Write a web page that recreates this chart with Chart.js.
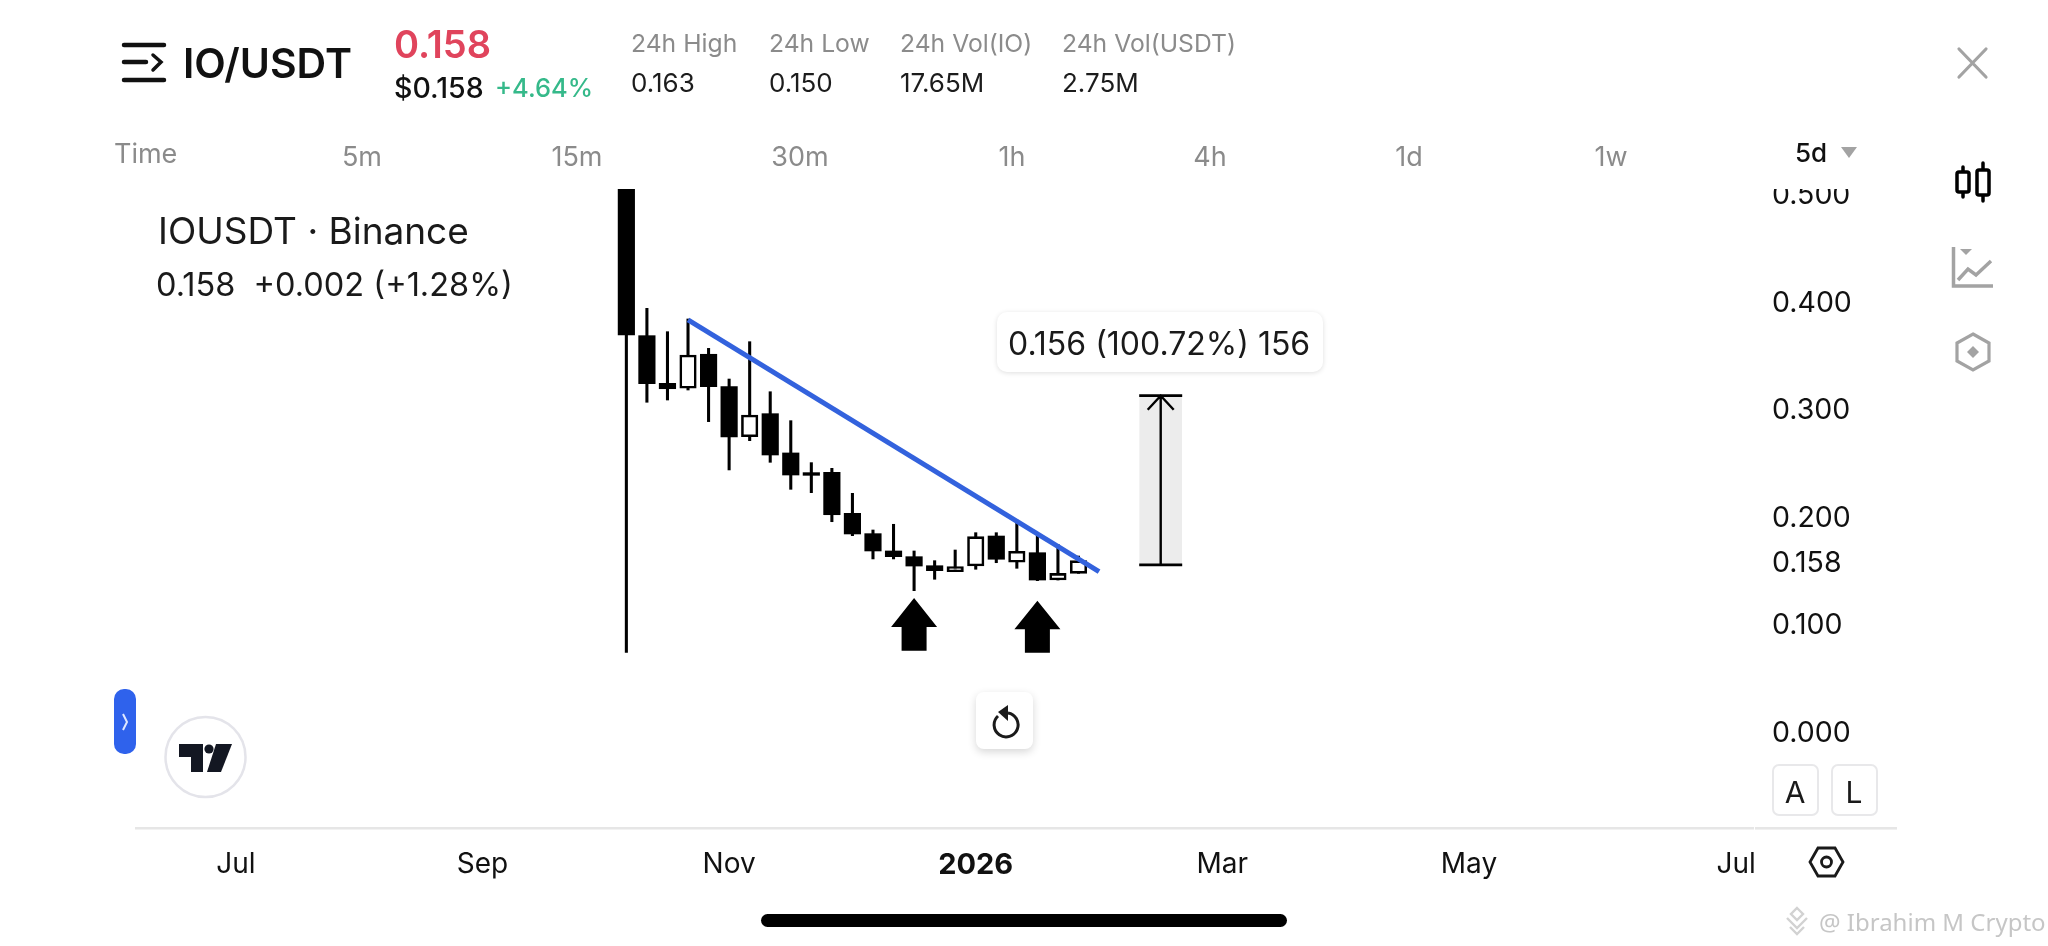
<!DOCTYPE html>
<html>
<head>
<meta charset="utf-8">
<script src="https://cdn.jsdelivr.net/npm/chart.js@4/dist/chart.umd.min.js"></script>
<style>
html,body{margin:0;padding:0;background:#fff;width:2048px;height:946px;overflow:hidden;font-family:Inter,sans-serif}
#c{position:absolute;left:0;top:189px}
.t{position:absolute;white-space:nowrap;transform:translateY(-50%);line-height:1;z-index:3}
.c{transform:translate(-50%,-50%)}
.g{color:#8b8b8b;font-size:24.7px}
.v{color:#1c1c1c;font-size:26px}
.m{color:#8b8b8b;font-size:27px}
svg{position:absolute;left:0;top:0;pointer-events:none;z-index:2}
.box{position:absolute;background:#fff;box-sizing:border-box;z-index:1}
</style>
</head>
<body>
<canvas id="c" width="2048" height="757" style="width:2048px;height:757px"></canvas>

<svg width="2048" height="946" viewBox="0 0 2048 946">
  <!-- menu -->
  <g stroke="#111" stroke-width="4.5" stroke-linecap="round" fill="none">
    <path d="M124 45H164M124 62H146M124 80H164"/>
    <path d="M153 55L161 62L153 70" stroke-width="3.5"/>
  </g>
  <!-- close -->
  <path d="M1959 49L1986 77M1986 49L1959 77" stroke="#a3a3a3" stroke-width="3.2" stroke-linecap="round"/>
  <!-- timeframe caret -->
  <path d="M1841 147H1857L1849 158Z" fill="#a3a3a3"/>
  <!-- candle icon -->
  <g stroke="#000" stroke-width="3.5" fill="#fff" stroke-linecap="round">
    <path d="M1963 167V197M1983 163V201"/>
    <rect x="1957" y="172" width="12" height="20" rx="2"/>
    <rect x="1977" y="170" width="12" height="25" rx="2"/>
  </g>
  <!-- indicator icon -->
  <g stroke="#a3a3a3" fill="none" stroke-width="3.5">
    <path d="M1953.5 247V286H1993"/>
    <path d="M1958 280L1968 269L1976 275L1991 261"/>
    <path d="M1960 249H1972L1966 255Z" fill="#a3a3a3" stroke="none"/>
  </g>
  <!-- hex icon -->
  <path d="M1973 334L1989 343V361L1973 370L1957 361V343Z" fill="none" stroke="#a3a3a3" stroke-width="3.2"/>
  <path d="M1973 346L1979 352L1973 358L1967 352Z" fill="#a3a3a3"/>
  <!-- side pill -->
  <rect x="114" y="689" width="22" height="65" rx="10" fill="#2f62ec"/>
  <path d="M123 714L127 722L123 730" stroke="#dfe8ff" stroke-width="2" fill="none"/>
  <!-- tv logo -->
  <ellipse cx="205.5" cy="757" rx="40" ry="40" fill="#fff" stroke="#e4e4ea" stroke-width="2.5"/>
  <path d="M179 744H203V772H191V757H179Z" fill="#131722"/>
  <circle cx="209" cy="749" r="4.6" fill="#131722"/>
  <path d="M216 744H232L221 772H207Z" fill="#131722"/>
  <!-- reset icon -->
  <g stroke="#1a1a1a" stroke-width="3" fill="none">
    <path d="M998 716A12 12 0 1 0 1008 713"/>
  </g>
  <path d="M1008 705V721L998 712Z" fill="#1a1a1a"/>
  <!-- bottom rule extension -->
  <rect x="1755" y="827" width="142" height="2.6" fill="#e6e6e6"/>
  <!-- settings hex -->
  <path d="M1818 848H1835L1843 862L1835 876H1818L1810 862Z" fill="none" stroke="#1a1a1a" stroke-width="2.8"/>
  <circle cx="1826.5" cy="862" r="5" fill="none" stroke="#1a1a1a" stroke-width="2.8"/>
  <!-- home indicator -->
  <rect x="761" y="914" width="526" height="13" rx="6.5" fill="#000"/>
  <!-- watermark mark -->
  <g fill="none" stroke="#d2d2d2" stroke-width="2.4">
    <path d="M1797 908L1803 914L1797 920L1791 914Z"/>
    <path d="M1787 918L1797 928L1807 918"/>
    <path d="M1790 927L1797 934L1804 927"/>
  </g>
</svg>

<div class="box" style="left:997px;top:312px;width:326px;height:60px;border-radius:10px;box-shadow:0 1px 5px rgba(0,0,0,.13)"></div>
<div class="box" style="left:976px;top:692px;width:57px;height:57px;border-radius:8px;box-shadow:0 3px 9px rgba(0,0,0,.16)"></div>
<div class="box" style="left:1772px;top:764px;width:47px;height:52px;border:2px solid #e8e8ea;border-radius:7px"></div>
<div class="box" style="left:1831px;top:764px;width:47px;height:52px;border:2px solid #e8e8ea;border-radius:7px"></div>

<span class="t" style="left:183px;top:63px;font-size:41px;font-weight:600;color:#111">IO/USDT</span>
<span class="t" style="left:394px;top:44px;font-size:38px;font-weight:600;color:#e0445c">0.158</span>
<span class="t" style="left:394px;top:88px;font-size:28.5px;font-weight:500;color:#111">$0.158</span>
<span class="t" style="left:495px;top:88px;font-size:25.5px;font-weight:500;color:#35b98a">+4.64%</span>

<span class="t g" style="left:631px;top:43px">24h High</span>
<span class="t g" style="left:769px;top:43px">24h Low</span>
<span class="t g" style="left:900px;top:43px">24h Vol(IO)</span>
<span class="t g" style="left:1062px;top:43px">24h Vol(USDT)</span>
<span class="t v" style="left:631px;top:83px">0.163</span>
<span class="t v" style="left:769px;top:83px">0.150</span>
<span class="t v" style="left:900px;top:83px">17.65M</span>
<span class="t v" style="left:1062px;top:83px">2.75M</span>

<span class="t m" style="left:114px;top:153px">Time</span>
<span class="t m c" style="left:362px;top:156px">5m</span>
<span class="t m c" style="left:577px;top:156px">15m</span>
<span class="t m c" style="left:800px;top:156px">30m</span>
<span class="t m c" style="left:1012px;top:156px">1h</span>
<span class="t m c" style="left:1210px;top:156px">4h</span>
<span class="t m c" style="left:1409px;top:156px">1d</span>
<span class="t m c" style="left:1611px;top:156px">1w</span>
<span class="t c" style="left:1811px;top:153px;font-size:26px;font-weight:500;color:#111">5d</span>

<span class="t" style="left:158px;top:230px;font-size:37px;color:#1a1a1a">IOUSDT · Binance</span>
<span class="t" style="left:156px;top:285px;font-size:32.5px;color:#1a1a1a">0.158&nbsp; +0.002 (+1.28%)</span>
<span class="t" style="left:1008px;top:344px;font-size:32px;color:#1a1a1a">0.156 (100.72%) 156</span>

<span class="t c" style="left:1795px;top:792px;font-size:30px;color:#1a1a1a">A</span>
<span class="t c" style="left:1854px;top:792px;font-size:30px;color:#1a1a1a">L</span>
<span class="t" style="left:1819px;top:922px;font-size:24px;color:#c6c6c6;font-family:'Noto Sans'">@ Ibrahim M Crypto</span>

<script>
// Candles, one per 5-day bar
const opens  = [0.600,0.3674,0.3231,0.3185,0.3501,0.3200,0.2735,0.2949,0.2584,0.2401,0.2404,0.2023,0.1834,0.1673,0.1620,0.1536,0.1481,0.1533,0.1812,0.1568,0.1657,0.1403,0.1465];
const highs  = [0.640,0.3928,0.3711,0.3829,0.3556,0.3271,0.3618,0.3153,0.2884,0.2494,0.2441,0.2209,0.1868,0.1921,0.1673,0.1583,0.1682,0.1843,0.1843,0.1961,0.1843,0.1735,0.1626];
const lows   = [0.0731,0.3055,0.3076,0.3169,0.2875,0.2426,0.2698,0.2497,0.2246,0.2215,0.1945,0.1815,0.1599,0.1599,0.1304,0.1410,0.1481,0.1503,0.1564,0.1512,0.1397,0.1403,0.1465];
const closes = [0.368,0.3228,0.3181,0.3494,0.3200,0.2732,0.2937,0.2565,0.2379,0.2376,0.2010,0.1831,0.1673,0.1620,0.1533,0.1490,0.1527,0.1806,0.1596,0.1670,0.1403,0.1465,0.1583];
const barIndex = opens.map((_, i) => i);

// Axis labels
const yTickValues = [0.5,0.4,0.3,0.2,0.158,0.1,0];
const xTickBars   = [-19,-7,5,17,29,41,54];
const xTickLabels = ['Jul','Sep','Nov','2026','Mar','May','Jul'];

// Drawings on the chart
const trendBars   = [3,23];
const trendValues = [0.3820,0.1481];
const measureBar  = 26;
const measureTop  = 0.3116;
const measureBase = 0.1543;
const arrowBars   = [14,20];
const arrowTips   = [0.1236,0.1211];
const arrowBases  = [0.0746,0.0728];

const drawings = {
  id:'drawings',
  beforeDraw(chart){
    // nudge the price labels onto the reference's text line
    const items = chart.scales.y.getLabelItems();
    if(!items._nudged){ items.forEach(it=>{ it.options.translation[1] += 2.5; }); items._nudged = true; }
  },
  afterDatasetsDraw(chart){
    const {ctx, scales:{x,y}} = chart;
    ctx.save();
    ctx.fillStyle = '#000';
    arrowBars.forEach((b,i)=>{
      const cx = x.getPixelForValue(b), t = y.getPixelForValue(arrowTips[i]), e = y.getPixelForValue(arrowBases[i]);
      const s = t + (e - t) * 0.55;
      ctx.beginPath();
      ctx.moveTo(cx,t); ctx.lineTo(cx+23,s); ctx.lineTo(cx+12.5,s); ctx.lineTo(cx+12.5,e);
      ctx.lineTo(cx-12.5,e); ctx.lineTo(cx-12.5,s); ctx.lineTo(cx-23,s); ctx.closePath();
      ctx.fill();
    });
    const mx = x.getPixelForValue(measureBar), mt = y.getPixelForValue(measureTop), mb = y.getPixelForValue(measureBase);
    ctx.strokeStyle = '#000';
    ctx.lineWidth = 2.4;
    ctx.beginPath(); ctx.moveTo(mx,mt); ctx.lineTo(mx,mb);
    ctx.moveTo(mx-13,mt+14); ctx.lineTo(mx,mt); ctx.lineTo(mx+13,mt+14);
    ctx.stroke();
    ctx.lineWidth = 2.8;
    ctx.beginPath();
    ctx.moveTo(mx-21.5,mt); ctx.lineTo(mx+21.5,mt);
    ctx.moveTo(mx-21.5,mb); ctx.lineTo(mx+21.5,mb);
    ctx.stroke();
    ctx.restore();
  }
};

// Drop the room the axes reserve for their end labels
const noPad = s => { s.paddingTop = s.paddingBottom = s.paddingLeft = s.paddingRight = 0; };

new Chart(document.getElementById('c'),{
  type:'bar',
  plugins:[drawings],
  data:{datasets:[
    {type:'line',order:0,data:trendBars.map((b,i)=>({x:b,y:trendValues[i]})),borderColor:'#3362dd',borderWidth:5,pointRadius:0,tension:0,borderCapStyle:'butt'},
    {order:1,grouped:false,barThickness:16.5,data:barIndex.map(i=>({x:i,y:[opens[i],closes[i]]})),
      backgroundColor:barIndex.map(i=>closes[i]>=opens[i]?'#fff':'#000'),borderColor:'#000',borderWidth:barIndex.map(i=>closes[i]>=opens[i]?2.6:0),borderSkipped:false},
    {order:2,grouped:false,barThickness:2.4,data:barIndex.map(i=>({x:i,y:[lows[i],highs[i]]})),backgroundColor:'#000',borderWidth:0},
    {order:3,grouped:false,barThickness:42,data:[{x:measureBar,y:[measureBase,measureTop]}],backgroundColor:'#ececec',borderWidth:0}
  ]},
  options:{
    responsive:false,animation:false,devicePixelRatio:1,
    layout:{autoPadding:false,padding:{left:136,right:0,top:0,bottom:0}},
    plugins:{legend:{display:false},tooltip:{enabled:false},title:{display:false}},
    scales:{
      x:{type:'linear',offset:false,min:-23.86,max:54.82,
        grid:{display:false,drawTicks:false},
        border:{display:true,color:'#e6e6e6',width:2.6},
        afterFit(s){s.height=118;noPad(s);},
        afterBuildTicks(s){s.ticks=xTickBars.map(v=>({value:v}));},
        ticks:{autoSkip:false,maxRotation:0,padding:20,color:'#111',
          font:c=>({family:'Inter',size:c.index===3?29:28,weight:c.index===3?'700':'400'}),
          callback:(v,i)=>xTickLabels[i]}
      },
      y:{type:'linear',position:'right',min:-0.09015,max:0.5037,
        grid:{display:false,drawTicks:false},border:{display:false},
        afterFit(s){s.width=295;noPad(s);},
        afterBuildTicks(s){s.ticks=yTickValues.map(v=>({value:v}));},
        ticks:{autoSkip:false,padding:19,crossAlign:'near',color:'#111',
          font:{family:'Inter',size:28.5},
          callback:v=>v.toFixed(3)}
      }
    }
  }
});
</script>
</body>
</html>
